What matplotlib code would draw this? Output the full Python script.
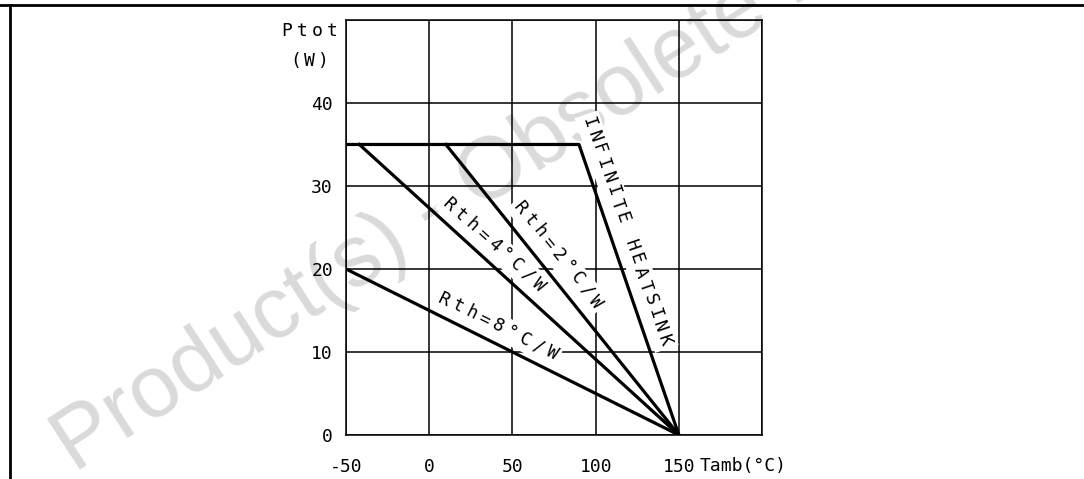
import matplotlib
matplotlib.use("Agg")
import matplotlib.pyplot as plt
from matplotlib.lines import Line2D
import numpy as np

# curves (Tamb in degC, Ptot in W)
inf_x = [-50, 90, 150]
inf_y = [35, 35, 0]
rth2_x = [10, 150]
rth2_y = [35, 0]
rth4_x = [-42, 150]
rth4_y = [35, 0]
rth8_x = [-50, 150]
rth8_y = [20, 0]

xticks = [-50, 0, 50, 100, 150, 200]
xlabels = ["-50", "0", "50", "100", "150", ""]
yticks = [0, 10, 20, 30, 40, 50]
ylabels = ["0", "10", "20", "30", "40", ""]

mono = "DejaVu Sans Mono"
fs = 13

fig = plt.figure(figsize=(10.84, 4.79), dpi=100)

# watermark behind everything
fig.text(0.068, 0.012, "Product(s) - Obsolete Product(s)", rotation=33,
         rotation_mode="anchor", ha="left", va="baseline", fontsize=63,
         color="#dadada", family="Liberation Sans", zorder=-1)

ax = fig.add_axes([0.3192, 0.0919, 0.3838, 0.8664])
ax.patch.set_alpha(0)
ax.set_xlim(-50, 200)
ax.set_ylim(0, 50)
ax.set_xticks(xticks)
ax.set_xticklabels(xlabels, family=mono, fontsize=fs)
ax.set_yticks(yticks)
ax.set_yticklabels(ylabels, family=mono, fontsize=fs)
ax.tick_params(axis="x", length=0, pad=16.5)
ax.tick_params(axis="y", length=0, pad=9.4)
ax.grid(True, color="black", linewidth=1.1, zorder=1)
ax.set_axisbelow(True)
for s in ax.spines.values():
    s.set_linewidth(1.1)

lw = 2.3
ax.plot(inf_x, inf_y, color="black", lw=lw, zorder=5)
ax.plot(rth2_x, rth2_y, color="black", lw=lw, zorder=5)
ax.plot(rth4_x, rth4_y, color="black", lw=lw, zorder=5)
ax.plot(rth8_x, rth8_y, color="black", lw=lw, zorder=5)


def spaced(xy, txt, ang, adv, coords, box=True):
    # plotter-style lettering: one glyph at a time, evenly spaced
    n = len(txt)
    for i, ch in enumerate(txt):
        d = (i - (n - 1) / 2) * adv * 0.72
        ax.annotate(ch, xy=xy, xycoords=coords,
                    xytext=(d * np.cos(ang), d * np.sin(ang)),
                    textcoords="offset points", rotation=np.degrees(ang),
                    rotation_mode="anchor", ha="center", va="center",
                    family=mono, fontsize=fs, zorder=3, annotation_clip=False,
                    bbox=dict(fc="white", ec="none", pad=2.5) if box else None)


def label(x, y, txt, xs, ys, adv=15.0):
    p0 = ax.transData.transform((xs[-2], ys[-2]))
    p1 = ax.transData.transform((xs[-1], ys[-1]))
    ang = np.arctan2(p1[1] - p0[1], p1[0] - p0[0])
    spaced((x, y), txt, ang, adv, "data")


label(118.6, 24.5, "INFINITE HEATSINK", inf_x, inf_y, adv=14.4)
label(77.4, 21.7, "Rth=2°C/W", rth2_x, rth2_y)
label(38.9, 22.9, "Rth=4°C/W", rth4_x, rth4_y)
label(41.3, 13.1, "Rth=8°C/W", rth8_x, rth8_y)

spaced((309.5 / 1084, 1 - 31 / 479), "Ptot", 0.0, 15.0, "figure fraction", box=False)
spaced((309.5 / 1084, 1 - 61 / 479), "(W)", 0.0, 14.0, "figure fraction", box=False)
fig.text(0.6458, 0.027, "Tamb(°C)", ha="left", va="center", family=mono, fontsize=fs)

# page frame lines
fig.add_artist(Line2D([0, 1], [1 - 5 / 479, 1 - 5 / 479], color="black", lw=2))
fig.add_artist(Line2D([10 / 1084, 10 / 1084], [0, 1 - 5 / 479], color="black", lw=2))

fig.savefig("out.png", dpi=100)
